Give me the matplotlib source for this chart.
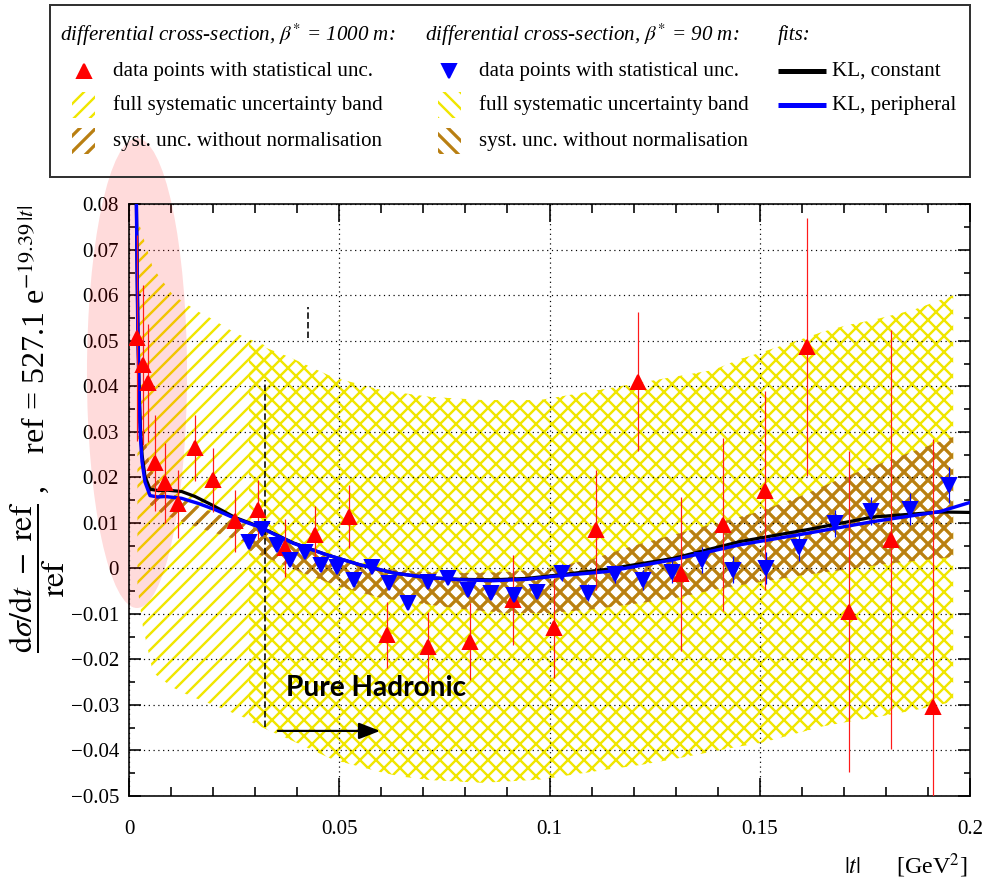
import matplotlib
matplotlib.use('Agg')
import matplotlib as mpl
import matplotlib.pyplot as plt
from matplotlib.patches import Ellipse, Rectangle
from matplotlib.ticker import MultipleLocator, FuncFormatter

## figure settings ##
DPI = 144
W, H = 986, 885
mpl.rcParams['font.family'] = ['Liberation Serif', 'DejaVu Serif']
mpl.rcParams['mathtext.fontset'] = 'stix'
mpl.rcParams['axes.unicode_minus'] = True

YELLOW = '#f0e600'
BROWN = '#b97f12'

#------------- data -------------#
## beta* = 1000 m data points ##
red_t = [0.0019, 0.0034, 0.0044, 0.0062, 0.0086, 0.0117, 0.0157, 0.0200, 0.0252,
         0.0307, 0.0371, 0.0442, 0.0523, 0.0613, 0.0710, 0.0811, 0.0912, 0.1011,
         0.1111, 0.1211, 0.1312, 0.1412, 0.1512, 0.1612, 0.1713, 0.1812, 0.1913]
red_y = [0.0506, 0.0447, 0.0407, 0.0232, 0.0188, 0.0142, 0.0265, 0.0194, 0.0105,
         0.0129, 0.0045, 0.0074, 0.0114, -0.0146, -0.0172, -0.0161, -0.0069, -0.0130,
         0.0085, 0.0410, -0.0012, 0.0096, 0.0171, 0.0487, -0.0095, 0.0063, -0.0305]
red_err = [0.0226, 0.0175, 0.0130, 0.0105, 0.0088, 0.0075, 0.0072, 0.0070, 0.0068,
           0.0065, 0.0064, 0.0063, 0.0070, 0.0073, 0.0077, 0.0085, 0.0099, 0.0110,
           0.0132, 0.0153, 0.0170, 0.0190, 0.0218, 0.0283, 0.0353, 0.0460, 0.0590]

## beta* = 90 m data points ##
blue_t = [0.0285, 0.0317, 0.0351, 0.0383, 0.0418, 0.0456, 0.0495, 0.0535, 0.0577, 0.0618,
          0.0664, 0.0710, 0.0759, 0.0807, 0.0861, 0.0916, 0.0971, 0.1030, 0.1092, 0.1156,
          0.1222, 0.1292, 0.1362, 0.1437, 0.1515, 0.1594, 0.1679, 0.1765, 0.1857, 0.1951]
blue_y = [0.0059, 0.0087, 0.0051, 0.0019, 0.0037, 0.0008, 0.0004, -0.0025, 0.0004, -0.0032,
          -0.0076, -0.0029, -0.0021, -0.0047, -0.0054, -0.0058, -0.0051, -0.0009, -0.0053, -0.0013,
          -0.0025, -0.0007, 0.0019, -0.0003, 0.0000, 0.0047, 0.0099, 0.0126, 0.0131, 0.0183]
blue_err = [0.0006, 0.0006, 0.0006, 0.0006, 0.0007, 0.0007, 0.0007, 0.0008, 0.0008, 0.0009,
            0.0009, 0.0010, 0.0010, 0.0011, 0.0012, 0.0013, 0.0015, 0.0018, 0.0018, 0.0020,
            0.0022, 0.0025, 0.0028, 0.0030, 0.0035, 0.0030, 0.0030, 0.0030, 0.0035, 0.0040]

## fits ##
kl_const_t = [0.0017, 0.0019, 0.0021, 0.0024, 0.0027, 0.0031, 0.0038, 0.0050, 0.0070, 0.0090,
              0.0125, 0.0157, 0.0196, 0.0252, 0.0307, 0.0391, 0.0470, 0.0549, 0.0629, 0.0708,
              0.0787, 0.0866, 0.0946, 0.1025, 0.1136, 0.1294, 0.1453, 0.1612, 0.1770, 0.1929, 0.2000]
kl_const_y = [0.085, 0.069, 0.054, 0.040, 0.031, 0.0250, 0.0202, 0.0174, 0.0171, 0.0172,
              0.0169, 0.0158, 0.0140, 0.0112, 0.0093, 0.0056, 0.0030, 0.0008, -0.0010, -0.0020,
              -0.0024, -0.0025, -0.0022, -0.0014, -0.0002, 0.0022, 0.0059, 0.0085, 0.0113, 0.0124, 0.0123]
kl_per_t = [0.0017, 0.0019, 0.0021, 0.0024, 0.0027, 0.0031, 0.0038, 0.0050, 0.0068, 0.0086,
            0.0125, 0.0164, 0.0205, 0.0252, 0.0307, 0.0391, 0.0470, 0.0549, 0.0629, 0.0708,
            0.0787, 0.0866, 0.0946, 0.1025, 0.1136, 0.1294, 0.1453, 0.1612, 0.1770, 0.1929, 0.2000]
kl_per_y = [0.085, 0.068, 0.052, 0.038, 0.029, 0.0235, 0.0190, 0.0160, 0.0157, 0.0158,
            0.0154, 0.0143, 0.0129, 0.0110, 0.0092, 0.0055, 0.0030, 0.0008, -0.0010, -0.0020,
            -0.0025, -0.0027, -0.0024, -0.0016, -0.0007, 0.0019, 0.0052, 0.0077, 0.0103, 0.0125, 0.0145]

## systematic bands, beta* = 1000 m ##
band1000_t = [0.0020, 0.0033, 0.0057, 0.0105, 0.0133, 0.0169, 0.0181, 0.0228, 0.0248, 0.0280, 0.0335]
band1000_hi = [0.077, 0.073, 0.066, 0.060, 0.0583, 0.0562, 0.0557, 0.0531, 0.0520, 0.0506, 0.0486]
band1000_lo = [-0.004, -0.0128, -0.0229, -0.0262, -0.0275, -0.0289, -0.0293, -0.0310, -0.0318, -0.0330, -0.0348]
brown1000_t = [0.0030, 0.0050, 0.0080, 0.0120, 0.0180, 0.0250, 0.0330]
brown1000_hi = [0.034, 0.022, 0.018, 0.0155, 0.0130, 0.0105, 0.0080]
brown1000_lo = [0.022, 0.014, 0.012, 0.0105, 0.0085, 0.0065, 0.0045]

## systematic bands, beta* = 90 m ##
band90_t = [0.0285, 0.0330, 0.0380, 0.0485, 0.0600, 0.0645, 0.0716, 0.0840, 0.0977, 0.1136,
            0.1215, 0.1290, 0.1390, 0.1453, 0.1505, 0.1610, 0.1650, 0.1710, 0.1770, 0.1865, 0.1960]
band90_hi = [0.0500, 0.0483, 0.0465, 0.0420, 0.0392, 0.0386, 0.0377, 0.0370, 0.0370, 0.0395,
             0.0408, 0.0420, 0.0436, 0.0460, 0.0475, 0.0507, 0.0520, 0.0535, 0.0546, 0.0568, 0.0600]
band90_lo = [-0.0335, -0.0355, -0.0375, -0.0420, -0.0448, -0.0457, -0.0465, -0.0471, -0.0464, -0.0442,
             -0.0432, -0.0420, -0.0402, -0.0391, -0.0383, -0.0357, -0.0347, -0.0337, -0.0328, -0.0312, -0.0293]
brown90_t = [0.0285, 0.040, 0.050, 0.060, 0.070, 0.080, 0.090, 0.100, 0.110, 0.120,
             0.130, 0.140, 0.150, 0.160, 0.170, 0.180, 0.196]
brown90_hi = [0.0095, 0.0050, 0.0015, 0.0000, -0.0008, -0.0010, -0.0008, 0.0000, 0.0020, 0.0050,
              0.0075, 0.0100, 0.0125, 0.0160, 0.0200, 0.0235, 0.0289]
brown90_lo = [0.0040, -0.0005, -0.0040, -0.0065, -0.0078, -0.0090, -0.0098, -0.0098, -0.0090, -0.0078,
              -0.0065, -0.0045, -0.0030, -0.0015, -0.0003, 0.0010, 0.0025]

## annotation geometry ##
T_CUT = 0.0323
CUT_Y = (-0.0348, 0.0414)
SMALL_T = 0.0426
SMALL_Y = (0.0506, 0.0574)
ARROW_T = (0.0354, 0.0597)
ARROW_Y = -0.0357
ELL_CENTER = (0.0019, 0.0429)
ELL_SIZE = (0.0238, 0.1032)

HATCH_FWD = '///'
HATCH_BACK = '\\\\\\'
HATCH_CROSS = 'xxx'


#------------- figure -------------#
fig = plt.figure(figsize=((W + 0.01) / DPI, (H + 0.01) / DPI), dpi=DPI)
ax = fig.add_axes([129 / W, 1 - 796 / H, 841 / W, 591.7 / H])


def hatch_fill(t, lo, hi, hatch, color, lw):
    mpl.rcParams['hatch.linewidth'] = lw
    pc = ax.fill_between(t, lo, hi, facecolor='none', edgecolor=color,
                         hatch=hatch, linewidth=0, zorder=1)
    if hasattr(pc, 'set_hatch_linewidth'):
        pc.set_hatch_linewidth(lw)
    return pc


## bands ##
hatch_fill(band1000_t, band1000_lo, band1000_hi, HATCH_FWD, YELLOW, 1.2)
hatch_fill(band90_t, band90_lo, band90_hi, HATCH_CROSS, YELLOW, 1.2)
hatch_fill(brown1000_t, brown1000_lo, brown1000_hi, HATCH_FWD, BROWN, 1.6)
hatch_fill(brown90_t, brown90_lo, brown90_hi, HATCH_CROSS, BROWN, 1.6)

## pink highlight ##
ax.add_patch(Ellipse(ELL_CENTER, ELL_SIZE[0], ELL_SIZE[1], facecolor='red',
                     alpha=0.14, edgecolor='none', clip_on=False, zorder=1.8))

## dashed markers ##
ax.plot([T_CUT, T_CUT], CUT_Y, color='black', lw=0.8, ls=(0, (4, 2)), zorder=3)
ax.plot([SMALL_T, SMALL_T], SMALL_Y, color='black', lw=0.8, ls=(0, (4, 2)), zorder=3)

## fits ##
ax.plot(kl_const_t, kl_const_y, color='black', lw=1.6, zorder=4)
ax.plot(kl_per_t, kl_per_y, color='#0000ff', lw=1.7, zorder=4.1)

## data ##
ax.errorbar(red_t, red_y, yerr=red_err, fmt='none', ecolor='#ff1a1a', elinewidth=0.6,
            capsize=0, zorder=5)
ax.plot(red_t, red_y, ls='none', marker='^', ms=7.3, color='#ff0000', mec='#ff0000', zorder=5.1)
ax.errorbar(blue_t, blue_y, yerr=blue_err, fmt='none', ecolor='#0000ff', elinewidth=0.6,
            capsize=0, zorder=5)
ax.plot(blue_t, blue_y, ls='none', marker='v', ms=6.7, color='#0000ff', mec='#0000ff', zorder=5.1)

## arrow and label ##
ax.annotate('', xy=(ARROW_T[1], ARROW_Y), xytext=(ARROW_T[0], ARROW_Y),
            arrowprops=dict(arrowstyle='-|>,head_length=0.9,head_width=0.35',
                            color='black', lw=1.1, shrinkA=0, shrinkB=0), zorder=6)
ax.text(0.0373, -0.0263, 'Pure Hadronic', family=['Lato', 'DejaVu Sans'], weight='bold',
        fontsize=14, ha='left', va='center', zorder=6)

## axes ##
ax.set_xlim(0, 0.2)
ax.set_ylim(-0.05, 0.08)
ax.xaxis.set_major_locator(MultipleLocator(0.05))
ax.xaxis.set_minor_locator(MultipleLocator(0.01))
ax.yaxis.set_major_locator(MultipleLocator(0.01))
ax.yaxis.set_minor_locator(MultipleLocator(0.005))


def fmt(v, pos):
    if abs(v) < 1e-9:
        return '0'
    return ('%g' % round(v, 4)).replace('-', '\u2212')


ax.xaxis.set_major_formatter(FuncFormatter(fmt))
ax.yaxis.set_major_formatter(FuncFormatter(fmt))
ax.tick_params(which='both', direction='in', top=True, right=True, colors='black')
ax.tick_params(axis='x', which='major', length=9, width=0.8, labelsize=10.5, pad=12)
ax.tick_params(axis='x', which='minor', length=4.5, width=0.8)
ax.tick_params(axis='y', which='major', length=6, width=0.8, labelsize=10.5, pad=5)
ax.tick_params(axis='y', which='minor', length=3, width=0.8)
ax.grid(True, which='major', color='black', lw=0.6, ls=(0, (1, 3)))
for s in ax.spines.values():
    s.set_linewidth(0.8)

## axis titles ##
fig.text(968 / W, 1 - 866 / H, r'$|t|$      [GeV$^{2}$]', fontsize=12, ha='right', va='center')
fig.text(36 / W, 1 - 429 / H,
         r'$\dfrac{\mathrm{d}\sigma/\mathrm{d}t\ -\ \mathrm{ref}}{\mathrm{ref}}$ ,    '
         r'ref = 527.1 e$^{-19.39\,|t|}$',
         fontsize=16, rotation=90, ha='center', va='center')

#------------- legend box -------------#
lax = fig.add_axes([50 / W, 1 - 177 / H, 920 / W, 172 / H])
lax.set_xlim(50, 970)
lax.set_ylim(177, 5)
lax.set_xticks([])
lax.set_yticks([])
lax.patch.set_alpha(0)
for s in lax.spines.values():
    s.set_linewidth(1.0)
    s.set_color('#333333')

LEG_FS = 10.5
lax.text(60, 35, r'differential cross-section, $\beta^{*}$ = 1000 m:', style='italic',
         fontsize=LEG_FS, va='center')
lax.text(425, 35, r'differential cross-section, $\beta^{*}$ = 90 m:', style='italic',
         fontsize=LEG_FS, va='center')
lax.text(778, 35, 'fits:', style='italic', fontsize=LEG_FS, va='center')

rows = [71, 105, 141]
labels = ['data points with statistical unc.', 'full systematic uncertainty band',
          'syst. unc. without normalisation']
for x0 in (113, 479):
    for y0, lab in zip(rows, labels):
        lax.text(x0, y0, lab, fontsize=LEG_FS, va='center')

lax.plot([84], [71], marker='^', ms=7.3, color='#ff0000', ls='none')
lax.plot([449], [71], marker='v', ms=6.7, color='#0000ff', ls='none')


def swatch(x0, y0, hatch, color, lw):
    mpl.rcParams['hatch.linewidth'] = lw
    r = Rectangle((x0, y0 - 13), 23, 26, facecolor='none', edgecolor=color, hatch=hatch, lw=0)
    if hasattr(r, 'set_hatch_linewidth'):
        r.set_hatch_linewidth(lw)
    lax.add_patch(r)


swatch(72, rows[1], HATCH_FWD, YELLOW, 1.2)
swatch(72, rows[2], HATCH_FWD, BROWN, 1.6)
swatch(438, rows[1], HATCH_BACK, YELLOW, 1.2)
swatch(438, rows[2], HATCH_BACK, BROWN, 1.6)

lax.plot([778, 826], [71, 71], color='black', lw=2.5, solid_capstyle='butt')
lax.plot([778, 826], [105, 105], color='#0000ff', lw=2.5, solid_capstyle='butt')
lax.text(832, 71, 'KL, constant', fontsize=LEG_FS, va='center')
lax.text(832, 105, 'KL, peripheral', fontsize=LEG_FS, va='center')

fig.savefig('out.png', dpi=DPI)
